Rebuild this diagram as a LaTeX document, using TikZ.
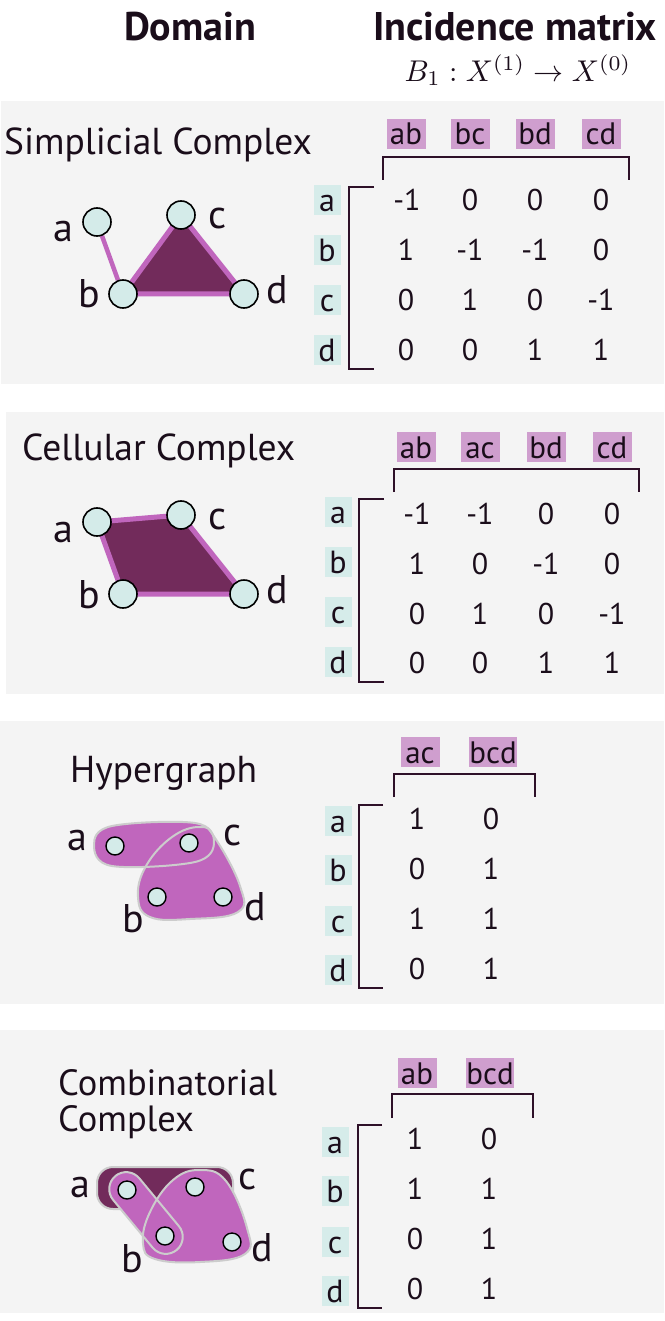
\documentclass[tikz,border=0pt]{standalone}
\usepackage[no-math]{fontspec}
\setmainfont{PT Sans}
\usepackage{graphicx}
\definecolor{panelgray}{HTML}{F4F4F4}
\definecolor{vcyan}{HTML}{D4EBE9}
\definecolor{rcyan}{HTML}{D6ECEA}
\definecolor{hpurple}{HTML}{CF9ECE}
\definecolor{lpurple}{HTML}{C066BD}
\definecolor{dpurple}{HTML}{722B5B}
\definecolor{bgrey}{HTML}{CCCCCC}
\definecolor{ink}{HTML}{1A0D1A}
\definecolor{brk}{HTML}{2E1028}
\pgfdeclarelayer{panels}
\pgfdeclarelayer{shapes}
\pgfsetlayers{panels,shapes,main}
\begin{document}
\begin{tikzpicture}[x=1pt,y=-1pt,
  head/.style={font=\fontsize{40}{44}\selectfont\bfseries, text=ink, anchor=base, inner sep=0},
  ptitle/.style={font=\fontsize{37.5}{40}\selectfont, text=ink, anchor=base west, inner sep=0},
  vtx/.style={circle, draw=black, line width=1.6, fill=vcyan, minimum size=28, inner sep=0},
  svtx/.style={circle, draw=black, line width=1.4, fill=vcyan, minimum size=18, inner sep=0},
  vlab/.style={font=\fontsize{40}{42}\selectfont, text=ink, anchor=base, inner sep=0},
  hdr/.style={fill=hpurple, font=\fontsize{31}{33}\selectfont, text=ink, minimum width=39, minimum height=30, inner sep=0, text height=22, text depth=0},
  rowl/.style={fill=rcyan, font=\fontsize{32}{34}\selectfont, text=ink, minimum width=27, minimum height=30, inner sep=0, text height=23, text depth=0},
  ent/.style={font=\fontsize{30}{32}\selectfont, text=ink, inner sep=0, text height=21, text depth=0},
  brack/.style={draw=brk, line width=1.6},
  blobline/.style={draw=bgrey, line width=2},
]
\useasboundingbox (0,0) rectangle (664,1321);
\begin{pgfonlayer}{panels}
\fill[panelgray] (1,101) rectangle (664,384);
\fill[panelgray] (6,412) rectangle (664,694);
\fill[panelgray] (0,721) rectangle (664,1004);
\fill[panelgray] (0,1030) rectangle (664,1313);
\end{pgfonlayer}

% headings
\node[head] (hdom) at (190,41) {Domain};
\node[head] (hinc) at (515,41) {Incidence matrix};
\node[text=ink, inner sep=0] (form) at (518,70) {\scalebox{3}{$B_1 : X^{(1)} \to X^{(0)}$}};

% ---------------- Panel 1: simplicial complex
\node[ptitle] (t1) at (4,155) {Simplicial Complex};
\node[vtx] (sa) at (97,222) {};
\node[vtx] (sc) at (181,215) {};
\node[vtx] (sb) at (123,294) {};
\node[vtx] (sd) at (244,294) {};
\node[vlab] (sla) at (63,242) {a};
\node[vlab] (slc) at (218,229) {c};
\node[vlab] (slb) at (89,308) {b};
\node[vlab] (sld) at (277,303) {d};
\begin{pgfonlayer}{shapes}
\filldraw[fill=dpurple, draw=lpurple, line width=5, line join=round] (sb.center) -- (sc.center) -- (sd.center) -- cycle;
\draw[lpurple, line width=4.5] (sa) -- (sb);
\end{pgfonlayer}
\foreach \t/\x in {ab/406,bc/470,bd/535,cd/601} \node[hdr] (h1\t) at (\x,134) {\t};
\foreach \t/\y in {a/200,b/250,c/300,d/350} \node[rowl] (r1\t) at (327,\y) {\t};
\draw[brack] (383,180) -- (383,157) -- (629,157) -- (629,180);
\draw[brack] (374,187) -- (349,187) -- (349,369) -- (374,369);
\foreach \v/\x [count=\j] in {-1/407,0/470,0/535,0/601} \node[ent] (e1a\j) at (\x,200) {\v};
\foreach \v/\x [count=\j] in {1/406,-1/470,-1/535,0/601} \node[ent] (e1b\j) at (\x,250) {\v};
\foreach \v/\x [count=\j] in {0/406,1/470,0/535,-1/601} \node[ent] (e1c\j) at (\x,300) {\v};
\foreach \v/\x [count=\j] in {0/406,0/470,1/535,1/601} \node[ent] (e1d\j) at (\x,350) {\v};

% ---------------- Panel 2: cellular complex
\node[ptitle] (t2) at (22,460) {Cellular Complex};
\node[vtx] (ca) at (97,522) {};
\node[vtx] (cc) at (181,515) {};
\node[vtx] (cb) at (123,594) {};
\node[vtx] (cd) at (244,594) {};
\node[vlab] (cla) at (63,542) {a};
\node[vlab] (clc) at (218,529) {c};
\node[vlab] (clb) at (89,608) {b};
\node[vlab] (cld) at (277,603) {d};
\begin{pgfonlayer}{shapes}
\filldraw[fill=dpurple, draw=lpurple, line width=5, line join=round] (ca.center) -- (cc.center) -- (cd.center) -- (cb.center) -- cycle;
\end{pgfonlayer}
\foreach \t/\x in {ab/416,ac/480,bd/546,cd/612} \node[hdr] (h2\t) at (\x,447) {\t};
\foreach \t/\y in {a/512,b/562,c/612,d/662} \node[rowl] (r2\t) at (338,\y) {\t};
\draw[brack] (394,492) -- (394,469) -- (639,469) -- (639,492);
\draw[brack] (384,499) -- (359,499) -- (359,682) -- (384,682);
\foreach \v/\x [count=\j] in {-1/417,-1/480,0/546,0/612} \node[ent] (e2a\j) at (\x,514) {\v};
\foreach \v/\x [count=\j] in {1/417,0/480,-1/546,0/612} \node[ent] (e2b\j) at (\x,564) {\v};
\foreach \v/\x [count=\j] in {0/417,1/480,0/546,-1/612} \node[ent] (e2c\j) at (\x,614) {\v};
\foreach \v/\x [count=\j] in {0/417,0/480,1/546,1/612} \node[ent] (e2d\j) at (\x,663) {\v};

% ---------------- Panel 3: hypergraph
\node[ptitle] (t3) at (70,782) {Hypergraph};
\node[svtx] (ha) at (115,846) {};
\node[svtx] (hc) at (189,843) {};
\node[svtx] (hb) at (157,897) {};
\node[svtx] (hd) at (223,897) {};
\node[vlab] (hla) at (77,850) {a};
\node[vlab] (hlc) at (233,845) {c};
\node[vlab] (hlb) at (133,932) {b};
\node[vlab] (hld) at (255,920) {d};
\begin{pgfonlayer}{shapes}
\fill[lpurple] plot[smooth cycle, tension=0.7] coordinates {(138,897) (146,866) (172,837) (200,827) (215,838) (240,886) (238,912) (190,919) (150,917)};
\fill[lpurple] plot[smooth cycle, tension=0.6] coordinates {(94,845) (112,826) (195,823) (214,842) (195,862) (112,866)};
\draw[blobline] plot[smooth cycle, tension=0.7] coordinates {(138,897) (146,866) (172,837) (200,827) (215,838) (240,886) (238,912) (190,919) (150,917)};
\draw[blobline] plot[smooth cycle, tension=0.6] coordinates {(94,845) (112,826) (195,823) (214,842) (195,862) (112,866)};
\end{pgfonlayer}
\foreach \t/\x in {ac/420,bcd/493} \node[hdr] (h3\t) at (\x,752) {\t};
\foreach \t/\y in {a/821,b/870,c/921,d/970} \node[rowl] (r3\t) at (338,\y) {\t};
\draw[brack] (394,797) -- (394,774) -- (535,774) -- (535,797);
\draw[brack] (383,805) -- (359,805) -- (359,988) -- (383,988);
\foreach \v/\x [count=\j] in {1/417,0/491} \node[ent] (e3a\j) at (\x,819) {\v};
\foreach \v/\x [count=\j] in {0/417,1/491} \node[ent] (e3b\j) at (\x,869) {\v};
\foreach \v/\x [count=\j] in {1/417,1/491} \node[ent] (e3c\j) at (\x,919) {\v};
\foreach \v/\x [count=\j] in {0/417,1/491} \node[ent] (e3d\j) at (\x,969) {\v};

% ---------------- Panel 4: combinatorial complex
\node[font=\fontsize{36.5}{36}\selectfont, text=ink, inner sep=0, align=left, anchor=north west] (t4) at (58,1069) {Combinatorial\\Complex};
\node[svtx] (ka) at (127,1190) {};
\node[svtx] (kc) at (195,1187) {};
\node[svtx] (kb) at (165,1236) {};
\node[svtx] (kd) at (232,1242) {};
\node[vlab] (kla) at (80,1197) {a};
\node[vlab] (klc) at (248,1189) {c};
\node[vlab] (klb) at (132,1272) {b};
\node[vlab] (kld) at (262,1261) {d};
\begin{pgfonlayer}{shapes}
\filldraw[fill=dpurple, blobline, rounded corners=16] (97,1167) rectangle (233,1209);
\fill[lpurple] plot[smooth cycle, tension=0.7] coordinates {(143,1243) (150,1212) (173,1180) (200,1170) (226,1181) (247,1228) (245,1254) (200,1262) (155,1259)};
\fill[lpurple, rounded corners=17] (102.3,1186.8) -- (128.5,1165.2) -- (189.7,1239.2) -- (163.5,1260.8) -- cycle;
\draw[blobline] plot[smooth cycle, tension=0.7] coordinates {(143,1243) (150,1212) (173,1180) (200,1170) (226,1181) (247,1228) (245,1254) (200,1262) (155,1259)};
\draw[blobline, rounded corners=17] (102.3,1186.8) -- (128.5,1165.2) -- (189.7,1239.2) -- (163.5,1260.8) -- cycle;
\end{pgfonlayer}
\foreach \t/\x in {ab/417,bcd/490} \node[hdr] (h4\t) at (\x,1073) {\t};
\foreach \t/\y in {a/1142,b/1191,c/1242,d/1291} \node[rowl] (r4\t) at (335,\y) {\t};
\draw[brack] (392,1118) -- (392,1094) -- (533,1094) -- (533,1118);
\draw[brack] (382,1125) -- (358,1125) -- (358,1308) -- (382,1308);
\foreach \v/\x [count=\j] in {1/415,0/489} \node[ent] (e4a\j) at (\x,1139) {\v};
\foreach \v/\x [count=\j] in {1/415,1/489} \node[ent] (e4b\j) at (\x,1189) {\v};
\foreach \v/\x [count=\j] in {0/415,1/489} \node[ent] (e4c\j) at (\x,1239) {\v};
\foreach \v/\x [count=\j] in {0/415,1/489} \node[ent] (e4d\j) at (\x,1289) {\v};
\end{tikzpicture}
\end{document}
